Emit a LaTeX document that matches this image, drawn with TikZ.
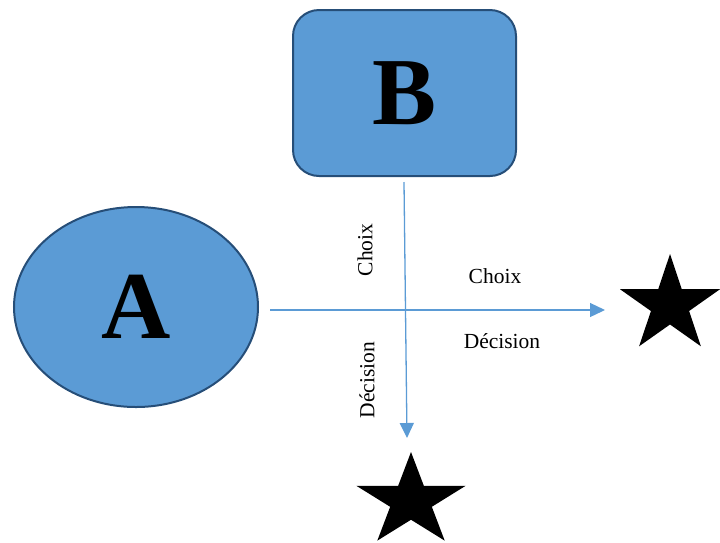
\documentclass[tikz,border=0pt]{standalone}
\usepackage{fontspec}
\setmainfont{Liberation Serif}
\usetikzlibrary{shapes.geometric,arrows.meta}
\definecolor{fillblue}{HTML}{5B9BD5}
\definecolor{edgeblue}{HTML}{264E78}
\definecolor{arrowblue}{HTML}{5B9BD5}
\tikzset{
  x=1pt, y=-1pt,
  shapeA/.style={ellipse, draw=edgeblue, line width=2pt, fill=fillblue, minimum width=244pt, minimum height=200pt, inner sep=0pt, font=\fontsize{96}{96}\selectfont\bfseries},
  shapeB/.style={rectangle, rounded corners=26pt, draw=edgeblue, line width=2pt, fill=fillblue, minimum width=223pt, minimum height=166pt, inner sep=0pt, font=\fontsize{96}{96}\selectfont\bfseries},
  goal/.style={star, star points=5, star point ratio=2.618, fill=black, inner sep=0pt},
  flow/.style={draw=arrowblue, line width=1.3pt, -{Triangle[length=15pt,width=14pt]}},
  lbl/.style={font=\fontsize{21.5}{21.5}\selectfont, inner sep=0pt}
}
\begin{document}
\begin{tikzpicture}
\useasboundingbox (0,0) rectangle (720,542);
\node[shapeA] (A) at (136,307) {A};
\node[shapeB] (B) at (404.5,93) {B};
\node[goal, minimum size=102pt, xscale=1.03, transform shape] (S1) at (670,305) {};
\node[goal, minimum size=98pt, xscale=1.17, transform shape] (S2) at (411,501) {};
\coordinate (h0) at (270,310);
\coordinate (h1) at (605,310);
\coordinate (v0) at (404,182);
\coordinate (v1) at (407,438);
\draw[flow] (h0) -- (h1);
\draw[flow] (v0) -- (v1);
\node[lbl, rotate=90] (c1) at (365,250) {Choix};
\node[lbl, rotate=90] (d1) at (367,380) {Décision};
\node[lbl] (c2) at (495,276) {Choix};
\node[lbl] (d2) at (502,341) {Décision};
\end{tikzpicture}
\end{document}
